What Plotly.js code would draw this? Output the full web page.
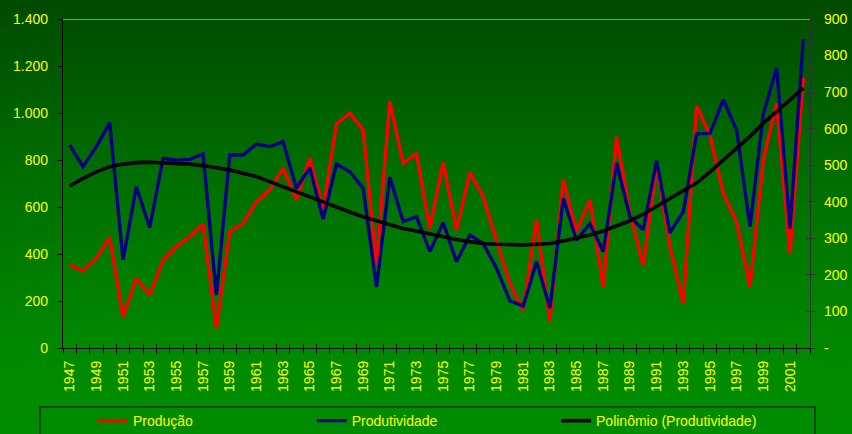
<!DOCTYPE html>
<html>
<head>
<meta charset="utf-8">
<script src="https://cdn.plot.ly/plotly-3.0.1.min.js"></script>
<style>
  html, body { margin: 0; padding: 0; }
  body { width: 852px; height: 434px; overflow: hidden;
         background: linear-gradient(to bottom, #004a00 0%, #006a00 35%, #007f00 65%, #008b00 85%, #008c00 100%); }
  #chart { width: 852px; height: 434px; }
</style>
</head>
<body>
<div id="chart"></div>
<script>
const years = [1947,1948,1949,1950,1951,1952,1953,1954,1955,1956,1957,1958,1959,1960,
  1961,1962,1963,1964,1965,1966,1967,1968,1969,1970,1971,1972,1973,1974,1975,1976,
  1977,1978,1979,1980,1981,1982,1983,1984,1985,1986,1987,1988,1989,1990,1991,1992,
  1993,1994,1995,1996,1997,1998,1999,2000,2001,2002];

const producao = [353,328,382,471,133,296,225,374,431,474,526,84,495,530,
  623,672,765,630,807,590,953,999,928,355,1048,786,828,509,789,502,
  746,644,455,275,162,545,115,715,495,630,260,899,573,351,780,431,
  189,1030,906,658,535,260,800,1041,402,1150];

const produtividade = [555,496,551,616,241,441,329,519,514,516,531,145,528,528,
  558,551,564,437,493,353,503,482,437,167,467,346,359,264,343,236,
  309,286,218,129,115,236,109,409,295,340,264,506,359,324,512,315,
  373,586,587,679,596,332,640,766,327,845];

const polinomio = [443,464,482,496,503,507,508,507,505,503,499,494,487,478,
  469,455,441,427,414,398,385,372,359,348,337,327,320,312,305,297,
  291,286,284,282,282,284,286,293,301,309,320,334,348,366,388,408,
  432,452,482,514,545,579,615,647,680,711];

const xLabelYears = [1947,1949,1951,1953,1955,1957,1959,1961,1963,1965,1967,1969,1971,1973,
  1975,1977,1979,1981,1983,1985,1987,1989,1991,1993,1995,1997,1999,2001];
const leftTickVals = [0,200,400,600,800,1000,1200,1400];
const leftTickText = ['0','200','400','600','800','1.000','1.200','1.400'];
const rightTickVals = [0,100,200,300,400,500,600,700,800,900];
const rightTickText = ['-','100','200','300','400','500','600','700','800','900'];
const seriesNames = ['Produção','Produtividade','Polinômio (Produtividade)'];

const FONT = 'Arial, "Liberation Sans", sans-serif';
const YEL = '#ffff00';

const traces = [
  {x: years, y: producao, name: seriesNames[0], type: 'scatter', mode: 'lines',
   line: {color: '#ff0000', width: 3.4}, yaxis: 'y', legend: 'legend'},
  {x: years, y: produtividade, name: seriesNames[1], type: 'scatter', mode: 'lines',
   line: {color: '#000080', width: 3.4}, yaxis: 'y2', legend: 'legend2'},
  {x: years, y: polinomio, name: seriesNames[2], type: 'scatter', mode: 'lines',
   line: {color: '#000000', width: 3.6}, yaxis: 'y2', legend: 'legend3'},
  {x: [], y: [], xaxis: 'x2', yaxis: 'y', showlegend: false, hoverinfo: 'skip', type: 'scatter'},
  {x: [], y: [], xaxis: 'x', yaxis: 'y3', showlegend: false, hoverinfo: 'skip', type: 'scatter'}
];

const legendBase = {orientation: 'h', xanchor: 'left', yanchor: 'middle', y: -0.222,
  bgcolor: 'rgba(0,0,0,0)', borderwidth: 0, font: {family: FONT, size: 14, color: YEL}};

const layout = {
  width: 852, height: 434,
  margin: {l: 63, r: 42, t: 19, b: 86, autoexpand: false},
  paper_bgcolor: 'rgba(0,0,0,0)', plot_bgcolor: 'rgba(0,0,0,0)',
  font: {family: FONT, size: 14, color: YEL},
  xaxis: {type: 'linear', range: [1946.5, 2002.5], tickmode: 'array', tickvals: xLabelYears,
    ticktext: xLabelYears.map(String), tickangle: -90, ticks: '', showgrid: false, zeroline: false,
    showline: true, linecolor: '#000000', linewidth: 1.2, ticklabelstandoff: 6,
    tickfont: {family: FONT, size: 14, color: YEL},
    minor: {tick0: 1946.5, dtick: 1, ticks: 'outside', ticklen: 5, tickcolor: '#000000', tickwidth: 1, showgrid: false}},
  xaxis2: {type: 'linear', overlaying: 'x', anchor: 'y', side: 'bottom', range: [1946.5, 2002.5],
    tick0: 1946.5, dtick: 1, ticks: 'inside', ticklen: 4, tickcolor: '#000000', tickwidth: 1,
    showticklabels: false, showline: false, showgrid: false, zeroline: false},
  yaxis: {range: [0, 1400], tickmode: 'array', tickvals: leftTickVals, ticktext: leftTickText,
    ticks: 'outside', ticklen: 5, tickcolor: '#000000', showline: true, linecolor: '#000000', linewidth: 1.2,
    showgrid: false, zeroline: false, ticklabelstandoff: 6, tickfont: {family: FONT, size: 14, color: YEL}},
  yaxis2: {overlaying: 'y', side: 'right', anchor: 'x', range: [0, 900], tickmode: 'array',
    tickvals: rightTickVals, ticktext: rightTickText, ticks: 'outside', ticklen: 4, tickcolor: '#303030',
    showline: true, linecolor: '#303030', linewidth: 1.2, showgrid: false, zeroline: false,
    ticklabelstandoff: 6, tickfont: {family: FONT, size: 14, color: YEL}},
  yaxis3: {overlaying: 'y', side: 'right', anchor: 'x', range: [0, 900], tickmode: 'array',
    tickvals: rightTickVals, ticks: 'inside', ticklen: 4, tickcolor: '#303030', showticklabels: false,
    showline: false, showgrid: false, zeroline: false},
  legend: Object.assign({}, legendBase, {x: 0.040}),
  legend2: Object.assign({}, legendBase, {x: 0.333}),
  legend3: Object.assign({}, legendBase, {x: 0.660}),
  shapes: [
    {type: 'line', xref: 'paper', x0: 0, x1: 1, yref: 'y', y0: 1400, y1: 1400,
     line: {color: '#a8a8a8', width: 1.5}},
    {type: 'rect', xref: 'paper', x0: -0.0308, x1: 1.0067, yref: 'paper', y0: -0.179, y1: -0.40,
     line: {color: '#002a00', width: 1.3}, fillcolor: 'rgba(0,0,0,0)'}
  ],
  showlegend: true
};

Plotly.newPlot('chart', traces, layout, {displayModeBar: false, staticPlot: true});
</script>
</body>
</html>
